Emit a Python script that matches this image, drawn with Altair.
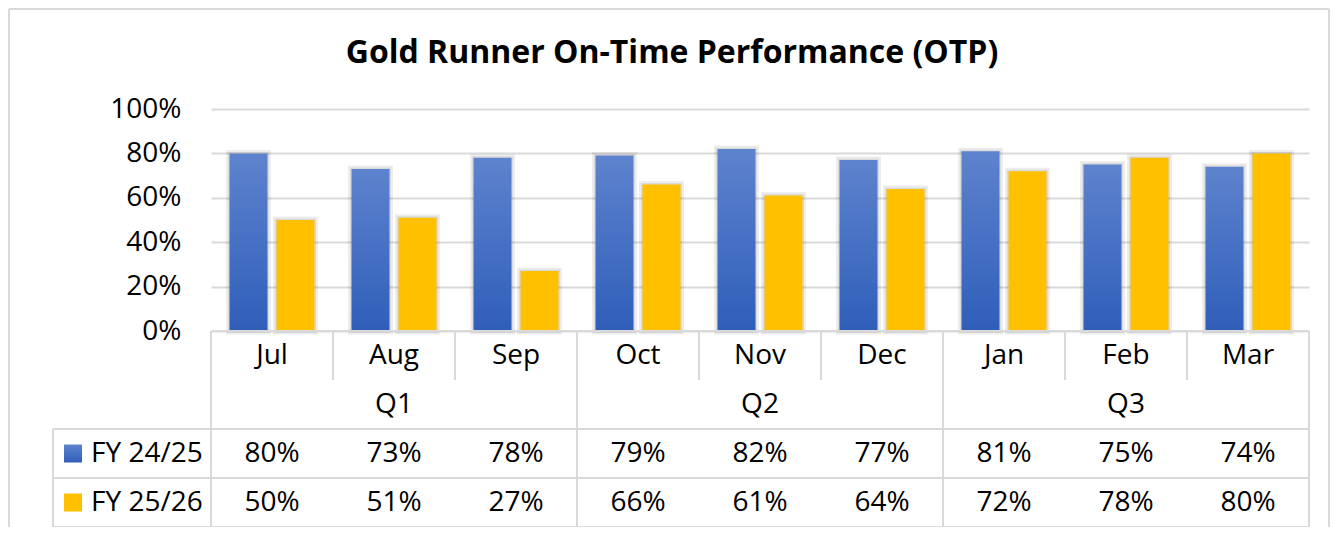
import altair as alt
import pandas as pd

# ---- data ----
months = ["Jul", "Aug", "Sep", "Oct", "Nov", "Dec", "Jan", "Feb", "Mar"]
quarters = ["Q1", "Q2", "Q3"]
series = ["FY 24/25", "FY 25/26"]
fy2425 = [0.80, 0.73, 0.78, 0.79, 0.82, 0.77, 0.81, 0.75, 0.74]
fy2526 = [0.50, 0.51, 0.27, 0.66, 0.61, 0.64, 0.72, 0.78, 0.80]
y_ticks = [0, 0.2, 0.4, 0.6, 0.8, 1.0]
title_text = "Gold Runner On-Time Performance (OTP)"

BLUE_TOP = "#5E83CE"
BLUE_BOT = "#2F5EB9"
YELLOW = "#FFC000"
LINE = "#D9D9D9"
FONT = "Open Sans"
FS = 28

# ---- layout constants (pixels, relative to plot origin) ----
W, H = 1098, 222
ROW_TOP = H          # table starts at the category axis
ROW_H = 49
row_c = [ROW_TOP + ROW_H * i + ROW_H / 2 for i in range(4)]
row_edge = [ROW_TOP + ROW_H * i for i in range(5)]
TABLE_LEFT = -158

rows = []
for m, a, b in zip(months, fy2425, fy2526):
    rows.append({"month": m, "series": series[0], "value": a})
    rows.append({"month": m, "series": series[1], "value": b})
df = pd.DataFrame(rows)
df_m = pd.DataFrame({"month": months})
df_q = pd.DataFrame({"quarter": quarters, "month": [months[3 * i + 1] for i in range(len(quarters))]})
df_qstart = pd.DataFrame({"month": [months[3 * i] for i in range(len(quarters))]})
df_s = pd.DataFrame({"series": series})

xs = alt.Scale(domain=months, paddingInner=0, paddingOuter=0)
xo = alt.Scale(domain=series, paddingInner=0.1915, paddingOuter=0.3936)
X = alt.X("month:N", scale=xs, axis=None, sort=months)
XO = alt.XOffset("series:N", scale=xo, sort=series)
Y = alt.Y(
    "value:Q",
    scale=alt.Scale(domain=[0, 1], nice=False),
    axis=alt.Axis(
        values=y_ticks, format=".0%", title=None, ticks=False, domain=False,
        grid=True, gridColor=LINE, gridWidth=2, labelFont=FONT, labelFontSize=FS,
        labelColor="#000000", labelPadding=30,
    ),
)

base = alt.Chart(df)

halo = base.mark_bar(fillOpacity=0, stroke="#000000", strokeOpacity=0.07, strokeWidth=7).encode(x=X, xOffset=XO, y=Y)
halo2 = base.mark_bar(fillOpacity=0, stroke="#000000", strokeOpacity=0.08, strokeWidth=3).encode(x=X, xOffset=XO, y=Y)

blue_grad = alt.LinearGradient(
    gradient="linear",
    stops=[alt.GradientStop(color=BLUE_TOP, offset=0), alt.GradientStop(color=BLUE_BOT, offset=1)],
    x1=0, x2=0, y1=0, y2=1,
)
bars_a = base.transform_filter(alt.datum.series == series[0]).mark_bar(color=blue_grad).encode(x=X, xOffset=XO, y=Y)
bars_b = base.transform_filter(alt.datum.series == series[1]).mark_bar(color=YELLOW).encode(x=X, xOffset=XO, y=Y)

# ---- table lines ----
sep_m = alt.Chart(df_m).mark_rule(color=LINE, strokeWidth=2).encode(
    x=alt.X("month:N", scale=xs, axis=None, bandPosition=0),
    y=alt.value(row_edge[0]), y2=alt.value(row_edge[1]),
)
sep_q = alt.Chart(df_qstart).mark_rule(color=LINE, strokeWidth=2).encode(
    x=alt.X("month:N", scale=xs, axis=None, bandPosition=0),
    y=alt.value(row_edge[0]), y2=alt.value(row_edge[4]),
)
sep_end = alt.Chart(pd.DataFrame({"month": [months[-1]]})).mark_rule(color=LINE, strokeWidth=2).encode(
    x=alt.X("month:N", scale=xs, axis=None, bandPosition=1),
    y=alt.value(row_edge[0]), y2=alt.value(row_edge[4]),
)
hlines = []
for e, x0 in [(row_edge[0], 0), (row_edge[2], TABLE_LEFT), (row_edge[3], TABLE_LEFT), (row_edge[4], TABLE_LEFT)]:
    hlines.append(
        alt.Chart(df_m.head(1)).mark_rule(color=LINE, strokeWidth=2).encode(
            x=alt.value(x0), x2=alt.value(W), y=alt.value(e)
        )
    )
left_line = alt.Chart(df_m.head(1)).mark_rule(color=LINE, strokeWidth=2).encode(
    x=alt.value(TABLE_LEFT), y=alt.value(row_edge[2]), y2=alt.value(row_edge[4])
)

border = [
    alt.Chart(df_m.head(1)).mark_rule(color=LINE, strokeWidth=2).encode(
        x=alt.value(-202), y=alt.value(-100), y2=alt.value(H + 200)),
    alt.Chart(df_m.head(1)).mark_rule(color=LINE, strokeWidth=2).encode(
        x=alt.value(W + 20), y=alt.value(-100), y2=alt.value(H + 200)),
    alt.Chart(df_m.head(1)).mark_rule(color=LINE, strokeWidth=2).encode(
        x=alt.value(-202), x2=alt.value(W + 20), y=alt.value(-100)),
]

# ---- table text ----
txt = dict(font=FONT, fontSize=FS, color="#000000", baseline="middle", align="center")
t_month = alt.Chart(df_m).mark_text(**txt).encode(
    x=alt.X("month:N", scale=xs, axis=None), y=alt.value(row_c[0]), text="month:N")
t_q = alt.Chart(df_q).mark_text(**txt).encode(
    x=alt.X("month:N", scale=xs, axis=None), y=alt.value(row_c[1]), text="quarter:N")
t_a = base.transform_filter(alt.datum.series == series[0]).mark_text(**txt).encode(
    x=alt.X("month:N", scale=xs, axis=None), y=alt.value(row_c[2]), text=alt.Text("value:Q", format=".0%"))
t_b = base.transform_filter(alt.datum.series == series[1]).mark_text(**txt).encode(
    x=alt.X("month:N", scale=xs, axis=None), y=alt.value(row_c[3]), text=alt.Text("value:Q", format=".0%"))

leg_a = alt.Chart(df_s.head(1)).mark_rect(color=blue_grad).encode(
    x=alt.value(-147), x2=alt.value(-129), y=alt.value(row_c[2] - 9), y2=alt.value(row_c[2] + 9))
leg_b = alt.Chart(df_s.tail(1)).mark_rect(color=YELLOW).encode(
    x=alt.value(-147), x2=alt.value(-129), y=alt.value(row_c[3] - 9), y2=alt.value(row_c[3] + 9))
lab_a = alt.Chart(df_s.head(1)).mark_text(font=FONT, fontSize=FS, color="#000000", baseline="middle", align="left").encode(
    x=alt.value(-120), y=alt.value(row_c[2]), text="series:N")
lab_b = alt.Chart(df_s.tail(1)).mark_text(font=FONT, fontSize=FS, color="#000000", baseline="middle", align="left").encode(
    x=alt.value(-120), y=alt.value(row_c[3]), text="series:N")

title = alt.Chart(pd.DataFrame({"t": [title_text]})).mark_text(
    font=FONT, fontSize=32, fontWeight="bold", color="#000000", baseline="alphabetic", align="center"
).encode(x=alt.value(461), y=alt.value(-46), text="t:N")

chart = alt.layer(
    halo, halo2, bars_a, bars_b,
    sep_m, sep_q, sep_end, *hlines, left_line, *border,
    t_month, t_q, t_a, t_b, leg_a, leg_b, lab_a, lab_b, title,
).properties(
    width=W, height=H,
    autosize=alt.AutoSizeParams(type="none"),
    padding={"left": 203, "top": 101, "right": 21, "bottom": 196},
    background="white",
).configure_view(stroke=None)

chart.save("out.html", embed_options={"renderer": "svg", "actions": False})
